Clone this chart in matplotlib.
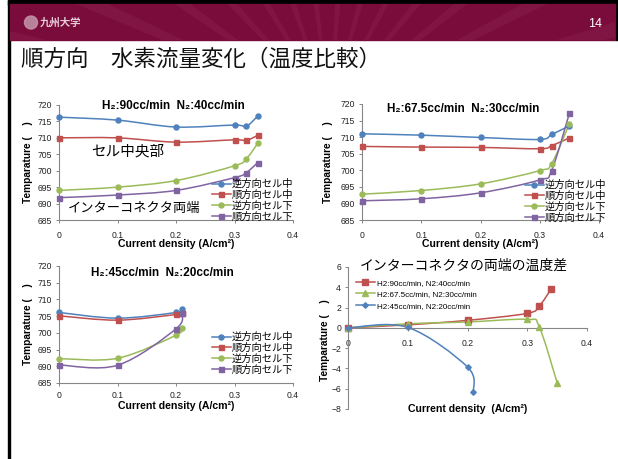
import numpy as np
import matplotlib
matplotlib.use("Agg")
import matplotlib.pyplot as plt
from matplotlib.path import Path
from matplotlib.patches import PathPatch, Rectangle, Circle, Polygon
from matplotlib.lines import Line2D

plt.rcParams['font.family'] = ['Liberation Sans', 'Noto Sans CJK JP', 'DejaVu Sans']
JP = ['Noto Sans CJK JP', 'DejaVu Sans']

W, H = 618, 459

## data
leg4 = ['逆方向セル中', '順方向セル中', '逆方向セル下', '順方向セル下']

x90 = [0, 0.1, 0.2, 0.3, 0.32, 0.34]
rev_mid_90 = [716.3, 715.4, 713.3, 713.9, 713.5, 716.7]
fwd_mid_90 = [710.0, 710.0, 708.7, 709.4, 709.2, 710.8]
rev_low_90 = [694.0, 695.0, 697.0, 701.5, 703.6, 708.4]
fwd_low_90 = [691.8, 692.6, 694.0, 697.9, 699.4, 702.5]

x675 = [0, 0.1, 0.2, 0.3, 0.32, 0.35]
rev_mid_675 = [711.0, 710.6, 709.9, 709.3, 710.8, 713.4]
fwd_mid_675 = [707.2, 707.0, 706.9, 706.5, 707.4, 709.8]
rev_low_675 = [692.8, 693.9, 695.9, 699.9, 702.0, 714.0]
fwd_low_675 = [690.8, 691.4, 693.2, 697.1, 699.9, 717.2]

x45 = [0, 0.1, 0.2, 0.21]
rev_mid_45 = [706.1, 704.4, 706.1, 707.1]
fwd_mid_45 = [705.1, 703.8, 705.5, 706.0]
rev_low_45 = [692.3, 692.4, 699.3, 701.5]
fwd_low_45 = [690.4, 690.3, 701.2, 706.0]

leg_diff = ['H2:90cc/min, N2:40cc/min', 'H2:67.5cc/min, N2:30cc/min', 'H2:45cc/min, N2:20cc/min']
diff_90 = [0.0, 0.3, 0.74, 1.43, 2.15, 3.83]
diff_675 = [0.0, 0.4, 0.58, 0.84, 0.12, -5.4]
diff_45 = [0.0, 0.05, -3.86, -6.3]

BLUE, RED, GREEN, PURPLE = '#4F81BD', '#C0504D', '#9BBB59', '#8064A2'
SPINE = '#868686'


def rect(x0, x1, ytop, ybot):
    return [x0 / W, 1 - ybot / H, (x1 - x0) / W, (ybot - ytop) / H]


def smooth(ax, xs, ys, color, lw=1.1):
    # excel style smoothed line: catmull-rom as cubic bezier
    p = np.column_stack([xs, ys]).astype(float)
    n = len(p)
    verts = [p[0]]
    codes = [Path.MOVETO]
    for i in range(n - 1):
        p0 = p[i - 1] if i > 0 else p[i]
        p3 = p[i + 2] if i + 2 < n else p[i + 1]
        c1 = p[i] + (p[i + 1] - p0) / 6
        c2 = p[i + 1] - (p3 - p[i]) / 6
        verts += [c1, c2, p[i + 1]]
        codes += [Path.CURVE4] * 3
    ax.add_patch(PathPatch(Path(verts, codes), fc='none', ec=color, lw=lw, zorder=2))


def style(ax, xlim, ylim, yticks, xpad=6.2):
    ax.set_xlim(*xlim)
    ax.set_ylim(*ylim)
    ax.set_xticks([0, 0.1, 0.2, 0.3, 0.4])
    ax.set_xticklabels(['0', '0.1', '0.2', '0.3', '0.4'])
    ax.set_yticks(yticks)
    for s in ['top', 'right']:
        ax.spines[s].set_visible(False)
    for s in ['left', 'bottom']:
        ax.spines[s].set_color(SPINE)
        ax.spines[s].set_linewidth(0.8)
    ax.tick_params(axis='both', colors=SPINE, labelcolor='#222222', labelsize=6.2,
                   length=2, width=0.7, direction='out')
    ax.tick_params(axis='x', pad=xpad)
    ax.tick_params(axis='y', pad=3)
    ax.patch.set_alpha(0)


def labels(ax, xl_y, yl_x, yl_y=0.5, xl='Current density (A/cm²)'):
    ax.set_xlabel(xl, fontsize=7.6, fontweight='bold', labelpad=0)
    ax.set_ylabel('Temparature (    )', fontsize=7.3, fontweight='bold')
    ax.xaxis.label.set_va('center')
    ax.yaxis.label.set_va('center')
    ax.xaxis.set_label_coords(0.5, xl_y)
    ax.yaxis.set_label_coords(yl_x, yl_y)


def temp_chart(ax, xs, series, title, tpos, legpos, xpad=6.2):
    cols = [BLUE, RED, GREEN, PURPLE]
    mks = ['o', 's', 'o', 's']
    for ys, c, m in zip(series, cols, mks):
        smooth(ax, xs, ys, c)
        ax.plot(xs, ys, ls='none', marker=m, ms=3.6, color=c, zorder=3, clip_on=False)
    style(ax, (0, 0.4), (685, 720), np.arange(685, 721, 5), xpad)
    ax.text(tpos[0], tpos[1], title, transform=ax.transAxes, ha='center', va='center',
            fontsize=8.5, fontweight='bold', family=['Liberation Sans', 'DejaVu Sans'])
    hs = [Line2D([], [], color=c, marker=m, ms=3.6, lw=1.1) for c, m in zip(cols, mks)]
    leg = ax.legend(hs, leg4, loc='upper left', bbox_to_anchor=(legpos[0] / W, 1 - legpos[1] / H),
                    bbox_transform=fig.transFigure, frameon=False, borderpad=0, borderaxespad=0,
                    handlelength=1.8, handletextpad=0.1, labelspacing=0.08,
                    prop={'family': JP, 'size': 7.4})
    leg.set_zorder(5)


fig = plt.figure(figsize=(W / 100, H / 100), dpi=100)

# slide background / header
bg = fig.add_axes([0, 0, 1, 1])
bg.set_xlim(0, W)
bg.set_ylim(H, 0)
bg.axis('off')
bg.add_patch(Rectangle((8, 0), 609, 5, color='black'))
bg.add_patch(Rectangle((8, 0), 2.2, H, color='black'))
bg.add_patch(Rectangle((614.5, 0), 3.5, 40, color='black'))
bg.add_patch(Rectangle((10, 4), 605, 36, color='#7a0c3c'))
for a in np.linspace(0.25, 2.9, 14):
    cx, cy = 330, 110
    d = 400
    pts = [(cx, cy), (cx + d * np.cos(a), cy - d * np.sin(a)), (cx + d * np.cos(a + 0.05), cy - d * np.sin(a + 0.05))]
    poly = Polygon(pts, color='#b0506f', alpha=0.12, lw=0)
    bg.add_patch(poly)
    poly.set_clip_path(Rectangle((10, 4), 605, 36, transform=bg.transData))
bg.add_patch(Circle((31, 22.5), 6.5, color='#c496aa', alpha=0.85))
bg.text(40, 23, '九州大学', family=JP, fontsize=7.5, color='#e6cdd8', va='center', ha='left', fontweight='bold')
bg.text(595, 24, '14', fontsize=9, color='white', va='center', ha='center')
bg.text(21, 59, '順方向　水素流量変化（温度比較）', family=JP, fontsize=16.2, color='#111111',
        va='center', ha='left')

# top left
ax1 = fig.add_axes(rect(59, 293, 105, 220))
temp_chart(ax1, x90, [rev_mid_90, fwd_mid_90, rev_low_90, fwd_low_90],
           'H₂:90cc/min  N₂:40cc/min', (0.49, 0.99), (212, 179))
labels(ax1, -0.209, -0.132)
ax1.text(0.295, 0.6, 'セル中央部', transform=ax1.transAxes, family=JP, fontsize=10.5,
         ha='center', va='center')
ax1.text(0.32, 0.104, 'インターコネクタ両端', transform=ax1.transAxes, family=JP, fontsize=9.5,
         ha='center', va='center')

# top right
ax2 = fig.add_axes(rect(362, 599, 104, 220))
temp_chart(ax2, x675, [rev_mid_675, fwd_mid_675, rev_low_675, fwd_low_675],
           'H₂:67.5cc/min  N₂:30cc/min', (0.426, 0.957), (525, 180))
labels(ax2, -0.207, -0.143)

# bottom left
ax3 = fig.add_axes(rect(59, 293, 266, 383))
temp_chart(ax3, x45, [rev_mid_45, fwd_mid_45, rev_low_45, fwd_low_45],
           'H₂:45cc/min  N₂:20cc/min', (0.44, 0.94), (212, 332), xpad=4.0)
labels(ax3, -0.2, -0.132)

# bottom right
ax4 = fig.add_axes(rect(348, 587, 267, 409))
for xs, ys, c, m, ms in [(x90, diff_90, RED, 's', 3.8), (x675, diff_675, GREEN, '^', 4.0),
                         (x45, diff_45, BLUE, 'D', 2.8)]:
    smooth(ax4, xs, ys, c)
    ax4.plot(xs, ys, ls='none', marker=m, ms=ms, color=c, zorder=3, clip_on=False)
style(ax4, (0, 0.4), (-8, 6), np.arange(-8, 7, 2))
ax4.spines['bottom'].set_position(('data', 0))
labels(ax4, 0.0, -0.096, 0.484, xl='Current density  (A/cm²)')
ax4.text(0.483, 1.01, 'インターコネクタの両端の温度差', transform=ax4.transAxes, family=JP,
         fontsize=10, ha='center', va='center')
hs = [Line2D([], [], color=c, marker=m, ms=ms, lw=1.1)
      for c, m, ms in [(RED, 's', 3.8), (GREEN, '^', 4.0), (BLUE, 'D', 2.8)]]
ax4.legend(hs, leg_diff, loc='upper left', bbox_to_anchor=(356 / W, 1 - 279 / H),
           bbox_transform=fig.transFigure, frameon=False, borderpad=0, borderaxespad=0,
           handlelength=2.3, handletextpad=0.3, labelspacing=0.5, prop={'size': 5.8})

fig.savefig('out.png', dpi=100)
